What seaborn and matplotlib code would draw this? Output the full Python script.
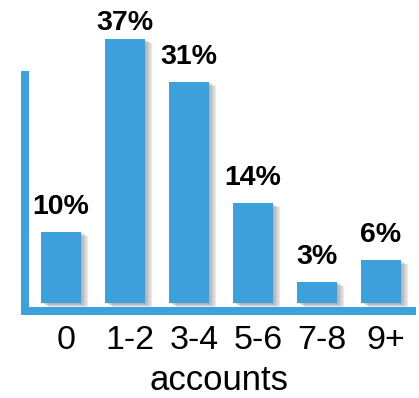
import matplotlib
matplotlib.use("Agg")
import matplotlib.pyplot as plt
import matplotlib.patheffects as pe
import matplotlib.transforms as mtransforms
import seaborn as sns

categories = ["0", "1-2", "3-4", "5-6", "7-8", "9+"]
values = [10, 37, 31, 14, 3, 6]
value_labels = ["10%", "37%", "31%", "14%", "3%", "6%"]

BLUE = "#3ea1db"
W, H = 419, 398

sns.set_theme(style="white")
plt.rcParams["font.family"] = ["Liberation Sans", "DejaVu Sans"]

fig = plt.figure(figsize=(W / 100, H / 100), dpi=100)
ax = fig.add_axes([25 / W, 87 / H, (412 - 25) / W, (311 - 75) / H])

sns.barplot(x=categories, y=values, color=BLUE, saturation=1, width=0.625, ax=ax)

shadow = [pe.SimplePatchShadow(offset=(o, -o * 0.6), shadow_rgbFace="#666666", alpha=0.13)
          for o in (1, 2, 3, 4, 5)] + [pe.Normal()]
for p in ax.patches:
    p.set_clip_on(False)
    p.set_edgecolor("none")
    p.set_path_effects(shadow)

ax.set_xlim(-0.5625, 5.484)
ax.set_ylim(-1.12, 31.95)

for i, (v, lab) in enumerate(zip(values, value_labels)):
    y = min(v + 2.5, 38.2)
    ax.text(i, y, lab, ha="center", va="baseline", fontsize=20.5, fontweight="bold",
            color="black", clip_on=False)

for side in ("top", "right"):
    ax.spines[side].set_visible(False)
for side in ("left", "bottom"):
    ax.spines[side].set_visible(True)
    ax.spines[side].set_color(BLUE)
    ax.spines[side].set_linewidth(5.76)
    ax.spines[side].set_capstyle("projecting")

ax.set_yticks([])
ax.tick_params(axis="x", length=0, pad=10, labelsize=24.5, colors="black")
shift = mtransforms.ScaledTranslation(5 / 100, 0, fig.dpi_scale_trans)
for t in ax.get_xticklabels():
    t.set_transform(t.get_transform() + shift)
ax.set_xlabel("accounts", fontsize=25, labelpad=5.5, color="black")
ax.set_ylabel("")

fig.savefig("out.png", dpi=100)
